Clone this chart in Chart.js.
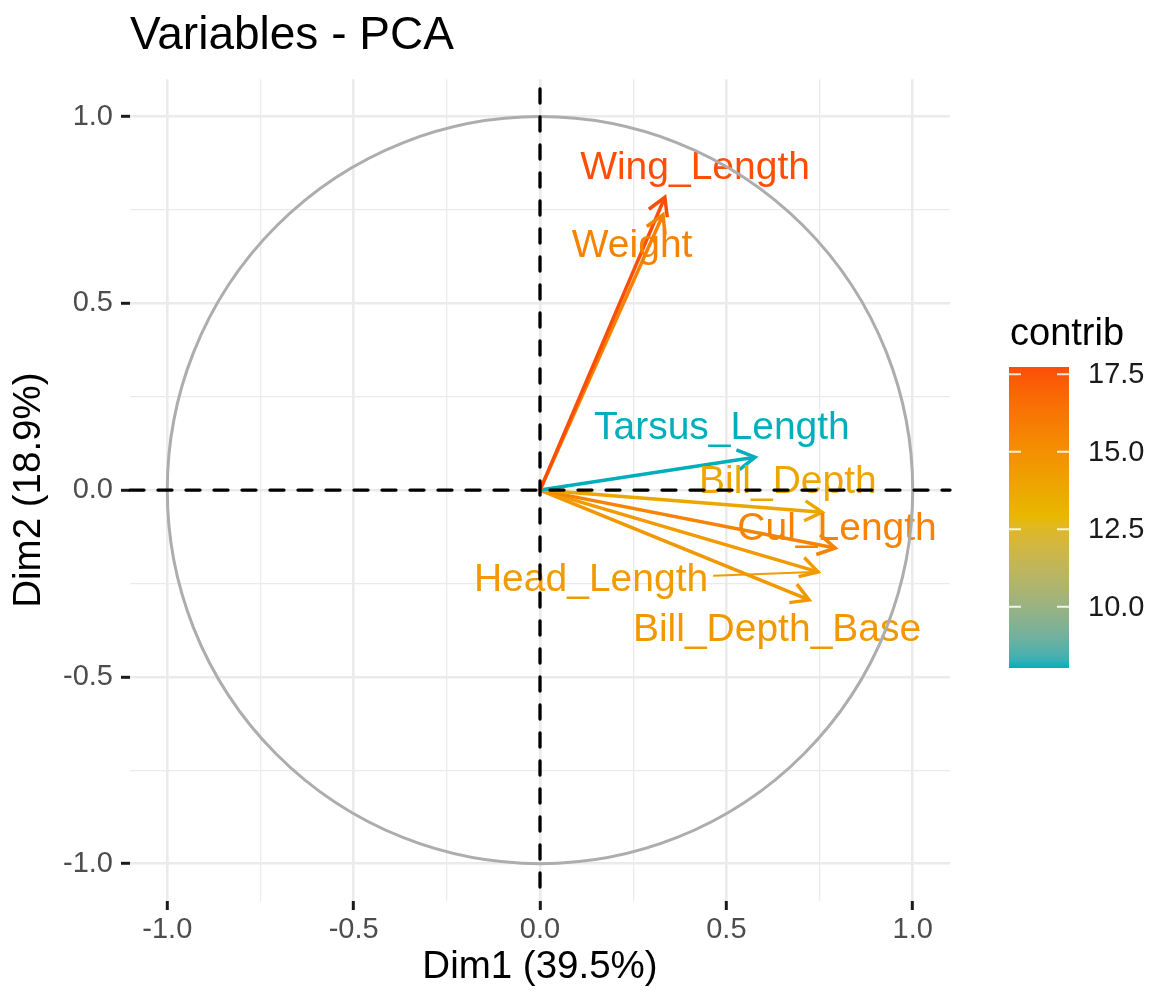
<!DOCTYPE html>
<html>
<head>
<meta charset="utf-8">
<title>Variables - PCA</title>
<script src="https://cdn.jsdelivr.net/npm/chart.js@4.4.1/dist/chart.umd.min.js"></script>
<style>
  html, body { margin: 0; padding: 0; background: #fff; }
  #wrap { width: 1152px; height: 997px; }
</style>
</head>
<body>
<div id="wrap"><canvas id="pcaChart" width="1152" height="997"></canvas></div>
<script>
// Coordonnées des variables sur les deux premiers axes
const variables = ['Wing_Length', 'Weight', 'Tarsus_Length', 'Bill_Depth', 'Cul_Length', 'Head_Length', 'Bill_Depth_Base'];
const dim1 = [0.335, 0.330, 0.577, 0.757, 0.792, 0.746, 0.722];
const dim2 = [0.784, 0.737, 0.088, -0.059, -0.155, -0.219, -0.294];
const contrib = [17.73, 15.65, 8.03, 13.84, 15.63, 14.51, 14.58];

const majorTicks = [-1, -0.5, 0, 0.5, 1];
const minorTicks = [-0.75, -0.25, 0.25, 0.75];
const legendTicks = [10, 12.5, 15, 17.5];

// décalage des étiquettes par rapport à la pointe de la flèche (unités des axes)
const labelOffset = [
    [0.081, 0.078],
    [-0.083, -0.084],
    [-0.089, 0.078],
    [-0.092, 0.080],
    [0.005, 0.051],
    [-0.609, -0.022],
    [-0.086, -0.081]
];

const GRADIENT = ['#00AFBB', '#E7B800', '#FC4E07'];
const FONT = '"Liberation Sans", Arial, Helvetica, sans-serif';

// Interpolation des couleurs en Lab
function hexToRgb(h) {
    const n = parseInt(h.slice(1), 16);
    return [(n >> 16) & 255, (n >> 8) & 255, n & 255];
}
function toLinear(c) {
    c /= 255;
    return c <= 0.04045 ? c / 12.92 : Math.pow((c + 0.055) / 1.055, 2.4);
}
function fromLinear(c) {
    const v = c <= 0.0031308 ? 12.92 * c : 1.055 * Math.pow(c, 1 / 2.4) - 0.055;
    return Math.round(Math.min(1, Math.max(0, v)) * 255);
}
function rgbToLab(rgb) {
    const [r, g, b] = rgb.map(toLinear);
    const x = (0.4124 * r + 0.3576 * g + 0.1805 * b) / 0.95047;
    const y = 0.2126 * r + 0.7152 * g + 0.0722 * b;
    const z = (0.0193 * r + 0.1192 * g + 0.9505 * b) / 1.08883;
    const f = t => t > 0.008856 ? Math.cbrt(t) : 7.787 * t + 16 / 116;
    const fx = f(x), fy = f(y), fz = f(z);
    return [116 * fy - 16, 500 * (fx - fy), 200 * (fy - fz)];
}
function labToRgb(lab) {
    const fy = (lab[0] + 16) / 116, fx = fy + lab[1] / 500, fz = fy - lab[2] / 200;
    const inv = t => t * t * t > 0.008856 ? t * t * t : (t - 16 / 116) / 7.787;
    const x = inv(fx) * 0.95047, y = inv(fy), z = inv(fz) * 1.08883;
    const r = 3.2406 * x - 1.5372 * y - 0.4986 * z;
    const g = -0.9689 * x + 1.8758 * y + 0.0415 * z;
    const b = 0.0557 * x - 0.2040 * y + 1.0570 * z;
    return 'rgb(' + [r, g, b].map(fromLinear).join(',') + ')';
}

const labCols = GRADIENT.map(c => rgbToLab(hexToRgb(c)));
const cMin = Math.min(...contrib);
const cMax = Math.max(...contrib);

function contribColor(v) {
    let t = (v - cMin) / (cMax - cMin);
    t = Math.min(1, Math.max(0, t));
    const seg = t < 0.5 ? 0 : 1;
    const u = (t - seg * 0.5) / 0.5;
    const a = labCols[seg], b = labCols[seg + 1];
    return labToRgb(a.map((c, i) => c + (b[i] - c) * u));
}

const colors = contrib.map(contribColor);
const allTicks = [...majorTicks, ...minorTicks].sort((a, b) => a - b);
const isMajor = v => majorTicks.some(m => Math.abs(m - v) < 1e-9);

// Flèches, étiquettes, cercle de corrélation et axes pointillés
const pcaOverlay = {
    id: 'pcaOverlay',
    afterDatasetsDraw(chart) {
        const { ctx, chartArea: area, scales: { x, y } } = chart;
        const x0 = x.getPixelForValue(0);
        const y0 = y.getPixelForValue(0);
        ctx.save();

        // pointes de flèches
        ctx.lineWidth = 3.5;
        ctx.lineCap = 'butt';
        ctx.lineJoin = 'miter';
        variables.forEach((name, i) => {
            const tx = x.getPixelForValue(dim1[i]);
            const ty = y.getPixelForValue(dim2[i]);
            const ang = Math.atan2(ty - y0, tx - x0);
            const len = 20, spread = Math.PI / 6;
            ctx.strokeStyle = colors[i];
            ctx.beginPath();
            ctx.moveTo(tx - len * Math.cos(ang - spread), ty - len * Math.sin(ang - spread));
            ctx.lineTo(tx, ty);
            ctx.lineTo(tx - len * Math.cos(ang + spread), ty - len * Math.sin(ang + spread));
            ctx.stroke();
        });

        // étiquettes + segments de renvoi
        ctx.font = '39px ' + FONT;
        ctx.textAlign = 'center';
        ctx.textBaseline = 'middle';
        variables.forEach((name, i) => {
            const px = x.getPixelForValue(dim1[i]);
            const py = y.getPixelForValue(dim2[i]);
            const lx = x.getPixelForValue(dim1[i] + labelOffset[i][0]);
            const ly = y.getPixelForValue(dim2[i] + labelOffset[i][1]);
            const hw = ctx.measureText(name).width / 2 + 5;
            const hh = 22;
            const dx = px - lx, dy = py - ly;
            const s = Math.min(hw / Math.max(Math.abs(dx), 1e-9), hh / Math.max(Math.abs(dy), 1e-9));
            if (s < 1) {
                const sx = lx + dx * s, sy = ly + dy * s;
                if (Math.hypot(px - sx, py - sy) > 25) {
                    ctx.strokeStyle = colors[i];
                    ctx.lineWidth = 2;
                    ctx.beginPath();
                    ctx.moveTo(sx, sy);
                    ctx.lineTo(px - dx / Math.hypot(dx, dy) * 4, py - dy / Math.hypot(dx, dy) * 4);
                    ctx.stroke();
                }
            }
            ctx.fillStyle = colors[i];
            ctx.fillText(name, lx, ly);
        });

        // cercle de rayon 1
        ctx.strokeStyle = '#ADADAD';
        ctx.lineWidth = 3;
        ctx.beginPath();
        ctx.ellipse(x0, y0, x.getPixelForValue(1) - x0, y0 - y.getPixelForValue(1), 0, 0, Math.PI * 2);
        ctx.stroke();

        // lignes pointillées en zéro
        ctx.strokeStyle = '#000';
        ctx.lineWidth = 3.3;
        ctx.lineCap = 'round';
        ctx.setLineDash([14, 14]);
        ctx.beginPath();
        ctx.moveTo(area.left, y0);
        ctx.lineTo(area.right, y0);
        ctx.stroke();
        ctx.lineDashOffset = 14;
        ctx.beginPath();
        ctx.moveTo(x0, area.bottom);
        ctx.lineTo(x0, area.top);
        ctx.stroke();

        ctx.restore();
    }
};

// Barre de couleur "contrib"
const contribLegend = {
    id: 'contribLegend',
    afterDraw(chart) {
        const ctx = chart.ctx;
        const barLeft = 1009, barWidth = 60, barTop = 367, barBottom = 668;
        const valueToY = v => barTop + (cMax - v) / (cMax - cMin) * (barBottom - barTop);
        ctx.save();

        ctx.fillStyle = '#000';
        ctx.font = '38px ' + FONT;
        ctx.textAlign = 'left';
        ctx.textBaseline = 'alphabetic';
        ctx.fillText('contrib', 1010, 345);

        const grad = ctx.createLinearGradient(0, barBottom, 0, barTop);
        for (let k = 0; k <= 40; k++) {
            const t = k / 40;
            grad.addColorStop(t, contribColor(cMin + t * (cMax - cMin)));
        }
        ctx.fillStyle = grad;
        ctx.fillRect(barLeft, barTop, barWidth, barBottom - barTop);

        ctx.strokeStyle = 'rgba(255,255,255,0.85)';
        ctx.lineWidth = 2;
        ctx.font = '29px ' + FONT;
        ctx.fillStyle = '#1A1A1A';
        ctx.textBaseline = 'middle';
        legendTicks.forEach(v => {
            const ty = valueToY(v);
            ctx.beginPath();
            ctx.moveTo(barLeft, ty);
            ctx.lineTo(barLeft + 12, ty);
            ctx.moveTo(barLeft + barWidth - 12, ty);
            ctx.lineTo(barLeft + barWidth, ty);
            ctx.stroke();
            ctx.fillText(v.toFixed(1), 1088, ty + 1);
        });
        ctx.restore();
    }
};

function axisOptions(titleText, isX) {
    return {
        type: 'linear',
        min: -1.1,
        max: 1.1,
        afterBuildTicks: scale => {
            scale.ticks = allTicks.map(v => ({ value: v }));
        },
        afterFit: scale => {
            if (isX) scale.height = 96;
            else scale.width = 130;
        },
        ticks: {
            autoSkip: false,
            color: '#4D4D4D',
            font: { size: 29, family: FONT },
            padding: isX ? 3 : 8,
            callback: v => isMajor(v) ? v.toFixed(1) : ''
        },
        grid: {
            color: '#EBEBEB',
            lineWidth: c => isMajor(c.tick.value) ? 2.6 : 1.3,
            tickColor: c => isMajor(c.tick.value) ? '#1A1A1A' : 'rgba(0,0,0,0)',
            tickWidth: 3,
            tickLength: 9
        },
        border: { display: false },
        title: {
            display: true,
            text: titleText,
            color: '#000',
            font: { size: 38.5, family: FONT },
            padding: isX ? { top: 0, bottom: 7 } : { top: 6, bottom: 0 }
        }
    };
}

const ctx = document.getElementById('pcaChart').getContext('2d');

new Chart(ctx, {
    type: 'scatter',
    data: {
        datasets: variables.map((name, i) => ({
            label: name,
            data: [{ x: 0, y: 0 }, { x: dim1[i], y: dim2[i] }],
            showLine: true,
            borderColor: colors[i],
            borderWidth: 3.5,
            pointRadius: 0,
            fill: false
        }))
    },
    options: {
        responsive: false,
        animation: false,
        events: [],
        layout: { padding: { left: 0, right: 202, top: 0, bottom: 0 } },
        plugins: {
            legend: { display: false },
            tooltip: { enabled: false },
            title: {
                display: true,
                text: 'Variables - PCA',
                align: 'start',
                fullSize: false,
                color: '#000',
                font: { size: 46, family: FONT, weight: 'normal' },
                padding: { top: 9, bottom: 15 }
            }
        },
        scales: {
            x: axisOptions('Dim1 (39.5%)', true),
            y: axisOptions('Dim2 (18.9%)', false)
        }
    },
    plugins: [pcaOverlay, contribLegend]
});
</script>
</body>
</html>
